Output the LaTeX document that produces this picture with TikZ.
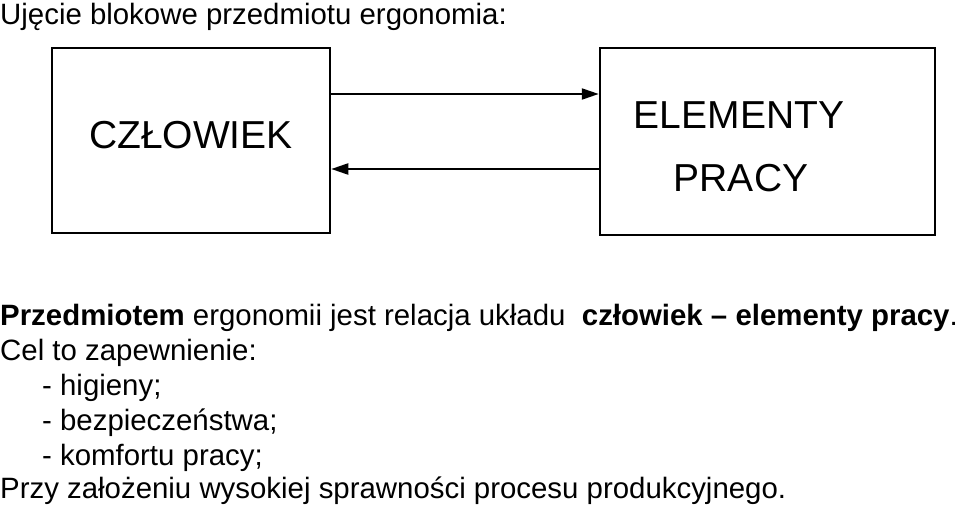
\documentclass[tikz,border=0pt]{standalone}
\usepackage{fontspec}
\setmainfont{Liberation Sans}
\usetikzlibrary{arrows.meta}

\tikzset{
  blok/.style={draw, line width=2.5pt, inner sep=0pt},
  napis/.style={anchor=base west, inner sep=0pt, font=\fontsize{29.4}{35}\selectfont},
  duzy/.style={anchor=base, inner sep=0pt, font=\fontsize{39}{46}\selectfont},
  strzalka/.style={line width=2.2pt, -{Triangle[length=17pt,width=11pt]}}
}

\begin{document}
\begin{tikzpicture}[x=1pt, y=-1pt]
    \useasboundingbox (0,0) rectangle (960,510);

    % Bloki
    \node[blok, minimum width=278pt, minimum height=185pt] (czlowiek) at (191,140.5) {};
    \node[blok, minimum width=335pt, minimum height=187pt] (praca) at (767.5,141.5) {};
    \node[duzy] (tczlowiek) at (191,149) {CZŁOWIEK};
    \node[duzy] (telementy) at (739,129) {ELEMENTY};
    \node[duzy] (tpracy) at (741,192) {PRACY};

    % Relacja
    \draw[strzalka] (czlowiek.east |- 0,94) -- (praca.west |- 0,94);
    \draw[strzalka] (praca.west |- 0,169) -- (czlowiek.east |- 0,169);

    % Tekst
    \node[napis] (tytul) at (0,25) {Ujęcie blokowe przedmiotu ergonomia:};
    \node[napis] (przedmiot) at (0,325) {\textbf{Przedmiotem} ergonomii jest relacja układu\ \ \textbf{człowiek – elementy pracy}.};
    \node[napis] (cel) at (0,360) {Cel to zapewnienie:};
    \node[napis] (higiena) at (42,395) {- higieny;};
    \node[napis] (bezp) at (42,430) {- bezpieczeństwa;};
    \node[napis] (komfort) at (42,465) {- komfortu pracy;};
    \node[napis] (przy) at (0,498) {Przy założeniu wysokiej sprawności procesu produkcyjnego.};
\end{tikzpicture}
\end{document}
